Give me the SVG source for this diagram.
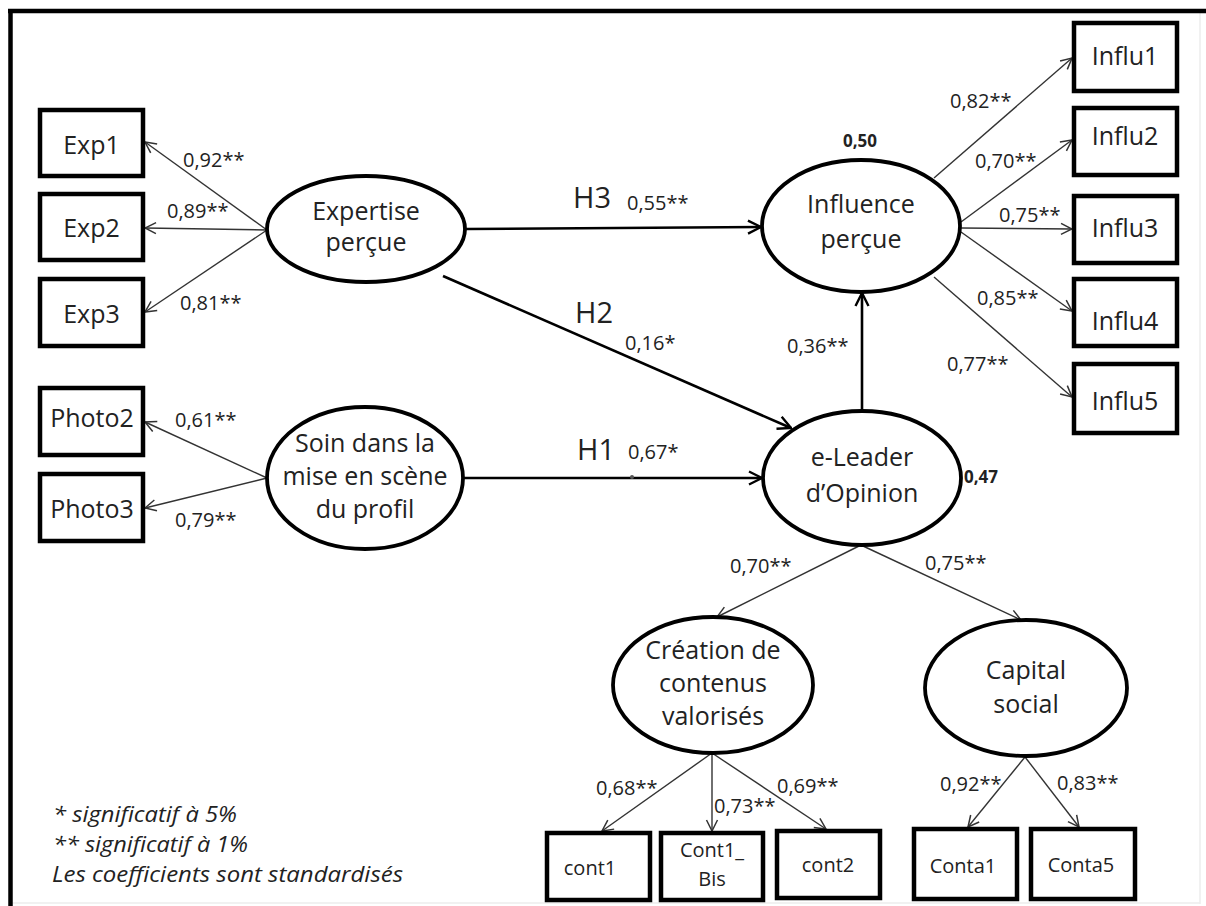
<svg xmlns="http://www.w3.org/2000/svg" width="1206" height="906" viewBox="0 0 1206 906">
<style>
text{font-family:"Open Sans","Liberation Sans",Arial,sans-serif;fill:#222}
.n{font-size:25px;text-anchor:middle}
.s{font-size:20px;text-anchor:middle}
.c{font-size:20px}
.h{font-size:29px}
.b{font-size:17px;font-weight:bold}
.lg{font-size:22px;font-style:italic}
.box{fill:#fff;stroke:#000;stroke-width:4.5}
.ell{fill:#fff;stroke:#000;stroke-width:3.8}
.thin{fill:none;stroke:#333;stroke-width:1.4;marker-end:url(#ta)}
.thick{fill:none;stroke:#000;stroke-width:2.6;marker-end:url(#ka)}
</style>
<defs>
<marker id="ta" viewBox="0 0 14 14" refX="13" refY="7" markerWidth="14" markerHeight="14" orient="auto" markerUnits="userSpaceOnUse"><path d="M2,1.5 L13,7 L2,12.5" fill="none" stroke="#333" stroke-width="1.5"/></marker>
<marker id="ka" viewBox="0 0 16 16" refX="15" refY="8" markerWidth="16" markerHeight="16" orient="auto" markerUnits="userSpaceOnUse"><path d="M2,1.5 L15,8 L2,14.5" fill="none" stroke="#000" stroke-width="2.4"/></marker>
</defs>
<rect width="1206" height="906" fill="#fff"/>
<g id="frame">
<line x1="1200" y1="10" x2="1200" y2="904" stroke="#ececec" stroke-width="1.5"/>
<line x1="10" y1="903" x2="1200" y2="903" stroke="#ececec" stroke-width="1.5"/>
<line x1="8" y1="11" x2="1206" y2="11" stroke="#000" stroke-width="4.5"/>
<line x1="10.5" y1="9" x2="10.5" y2="906" stroke="#000" stroke-width="4.5"/>
</g>
<g id="connectors">
<line class="thin" x1="267" y1="230" x2="145" y2="142"/>
<line class="thin" x1="267" y1="230" x2="145" y2="228"/>
<line class="thin" x1="267" y1="230" x2="145" y2="312"/>
<line class="thin" x1="267" y1="478" x2="145" y2="422"/>
<line class="thin" x1="267" y1="478" x2="145" y2="508"/>
<line class="thick" x1="466" y1="229" x2="761" y2="227"/>
<line class="thick" x1="443" y1="276" x2="791" y2="428"/>
<line class="thick" x1="463" y1="478" x2="762" y2="478"/>
<circle cx="632" cy="477" r="2" fill="#555"/>
<line class="thick" x1="862" y1="411" x2="862" y2="293"/>
<line class="thin" x1="934" y1="178" x2="1072" y2="58"/>
<line class="thin" x1="961" y1="222" x2="1072" y2="140"/>
<line class="thin" x1="961" y1="228" x2="1072" y2="229"/>
<line class="thin" x1="961" y1="232" x2="1072" y2="311"/>
<line class="thin" x1="934" y1="277" x2="1072" y2="397"/>
<line class="thin" x1="859" y1="546" x2="717" y2="617"/>
<line class="thin" x1="863" y1="546" x2="1021" y2="620"/>
<line class="thin" x1="712" y1="753" x2="602" y2="831"/>
<line class="thin" x1="712" y1="753" x2="712" y2="831"/>
<line class="thin" x1="712" y1="753" x2="826" y2="829"/>
<line class="thin" x1="1025" y1="757" x2="968" y2="827"/>
<line class="thin" x1="1025" y1="757" x2="1079" y2="827"/>
</g>
<g id="labels">
<text class="c" x="183" y="167">0,92**</text>
<text class="c" x="167" y="218">0,89**</text>
<text class="c" x="180" y="310">0,81**</text>
<text class="c" x="175" y="427">0,61**</text>
<text class="c" x="175" y="527">0,79**</text>
<text class="h" x="573" y="208">H3</text>
<text class="c" x="627" y="210">0,55**</text>
<text class="h" x="575" y="323">H2</text>
<text class="c" x="625" y="350">0,16*</text>
<text class="h" x="577" y="460">H1</text>
<text class="c" x="628" y="459">0,67*</text>
<text class="c" x="787" y="353">0,36**</text>
<text class="b" x="843" y="147">0,50</text>
<text class="b" x="964" y="483">0,47</text>
<text class="c" x="950" y="108">0,82**</text>
<text class="c" x="975" y="168">0,70**</text>
<text class="c" x="999" y="222">0,75**</text>
<text class="c" x="977" y="305">0,85**</text>
<text class="c" x="947" y="371">0,77**</text>
<text class="c" x="730" y="573">0,70**</text>
<text class="c" x="925" y="570">0,75**</text>
<text class="c" x="596" y="795">0,68**</text>
<text class="c" x="714" y="813">0,73**</text>
<text class="c" x="777" y="793">0,69**</text>
<text class="c" x="940" y="791">0,92**</text>
<text class="c" x="1057" y="790">0,83**</text>
</g>
<g id="exp1"><rect class="box" x="40" y="110" width="103" height="66"/><text class="n" x="91.5" y="154">Exp1</text></g>
<g id="exp2"><rect class="box" x="40" y="194" width="103" height="66"/><text class="n" x="91.5" y="237">Exp2</text></g>
<g id="exp3"><rect class="box" x="40" y="279" width="103" height="67"/><text class="n" x="91.5" y="323">Exp3</text></g>
<g id="photo2"><rect class="box" x="40" y="388" width="103" height="67"/><text class="n" x="92" y="427">Photo2</text></g>
<g id="photo3"><rect class="box" x="40" y="474" width="103" height="67"/><text class="n" x="92" y="518">Photo3</text></g>
<g id="expertise"><ellipse class="ell" cx="366" cy="229" rx="99" ry="53"/><text class="n" x="366" y="220">Expertise</text><text class="n" x="366" y="251">perçue</text></g>
<g id="soin"><ellipse class="ell" cx="365" cy="478" rx="98" ry="71"/><text class="n" x="365" y="452">Soin dans la</text><text class="n" x="365" y="485">mise en scène</text><text class="n" x="365" y="518">du profil</text></g>
<g id="influence"><ellipse class="ell" cx="861" cy="226" rx="99" ry="66"/><text class="n" x="861" y="213">Influence</text><text class="n" x="861" y="248">perçue</text></g>
<g id="leader"><ellipse class="ell" cx="862" cy="478" rx="99" ry="67"/><text class="n" x="862" y="466">e-Leader</text><text class="n" x="862" y="502">d’Opinion</text></g>
<g id="creation"><ellipse class="ell" cx="713" cy="685" rx="100" ry="68"/><text class="n" x="713" y="659">Création de</text><text class="n" x="713" y="692">contenus</text><text class="n" x="713" y="725">valorisés</text></g>
<g id="capital"><ellipse class="ell" cx="1026" cy="688" rx="101" ry="68"/><text class="n" x="1026" y="679">Capital</text><text class="n" x="1026" y="713">social</text></g>
<g id="influ1"><rect class="box" x="1074" y="23" width="103" height="68"/><text class="n" x="1125" y="65">Influ1</text></g>
<g id="influ2"><rect class="box" x="1074" y="108" width="103" height="67"/><text class="n" x="1125" y="145">Influ2</text></g>
<g id="influ3"><rect class="box" x="1074" y="196" width="103" height="67"/><text class="n" x="1125" y="237">Influ3</text></g>
<g id="influ4"><rect class="box" x="1074" y="279" width="103" height="67"/><text class="n" x="1125" y="330">Influ4</text></g>
<g id="influ5"><rect class="box" x="1074" y="364" width="103" height="69"/><text class="n" x="1125" y="410">Influ5</text></g>
<g id="cont1"><rect class="box" x="547" y="833" width="103" height="67"/><text class="s" x="590" y="875">cont1</text></g>
<g id="cont1bis"><rect class="box" x="661" y="833" width="102" height="67"/><text class="s" x="712" y="857">Cont1_</text><text class="s" x="712" y="886">Bis</text></g>
<g id="cont2"><rect class="box" x="777" y="831" width="103" height="67"/><text class="s" x="828" y="872">cont2</text></g>
<g id="conta1"><rect class="box" x="914" y="829" width="103" height="70"/><text class="s" x="963" y="873">Conta1</text></g>
<g id="conta5"><rect class="box" x="1031" y="829" width="104" height="70"/><text class="s" x="1081" y="872">Conta5</text></g>
<g id="legend">
<text class="lg" x="53" y="822" textLength="184" lengthAdjust="spacingAndGlyphs">* significatif à 5%</text>
<text class="lg" x="53" y="852" textLength="195" lengthAdjust="spacingAndGlyphs">** significatif à 1%</text>
<text class="lg" x="52" y="882" textLength="351" lengthAdjust="spacingAndGlyphs">Les coefficients sont standardisés</text>
</g>
</svg>
